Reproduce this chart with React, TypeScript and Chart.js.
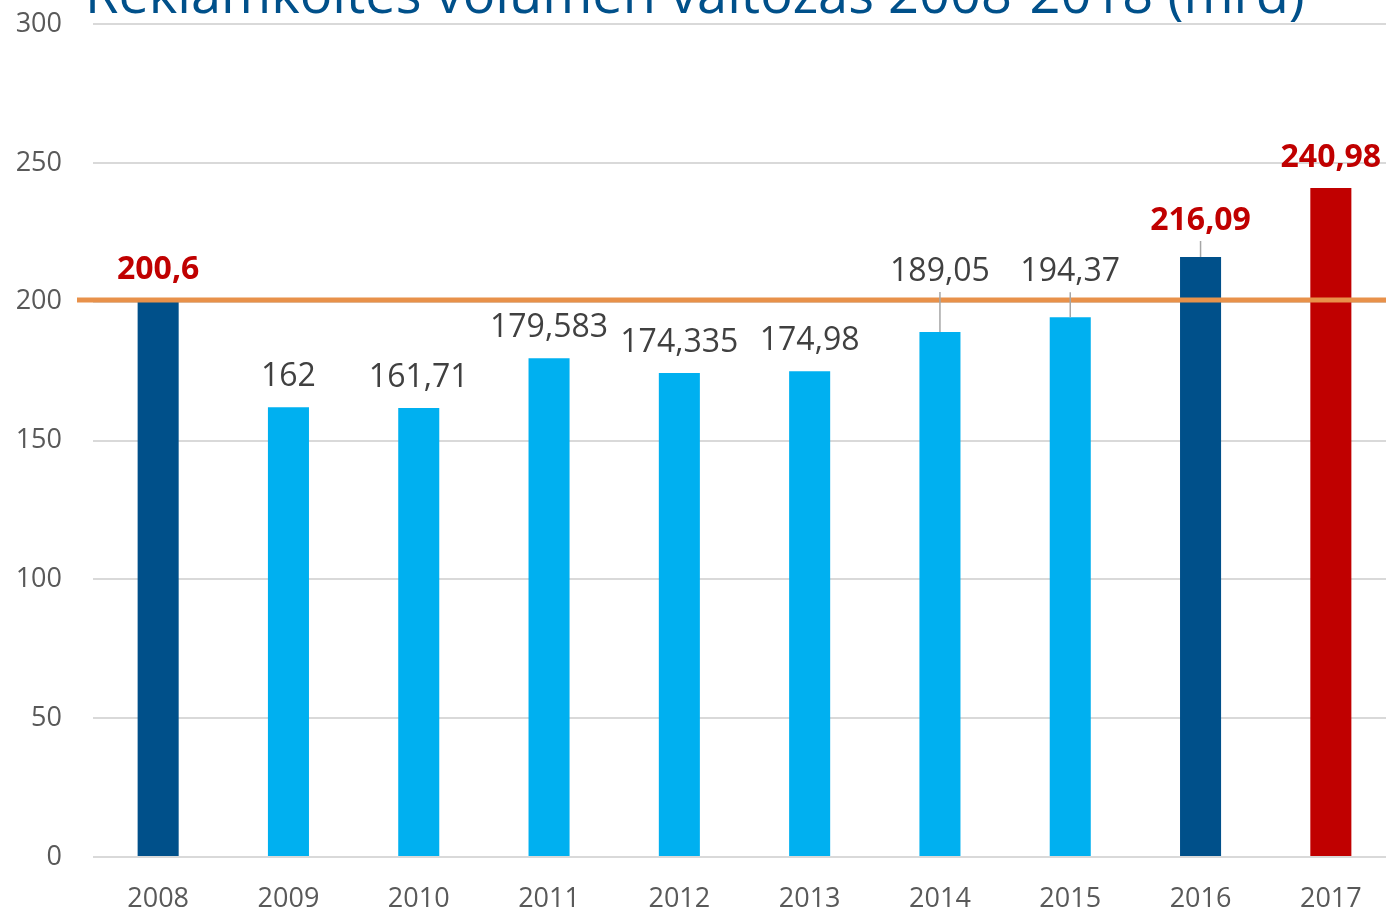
import React, { useEffect, useRef } from "react";
import { Chart, registerables } from "chart.js";

Chart.register(...registerables);

const years = ["2008", "2009", "2010", "2011", "2012", "2013", "2014", "2015", "2016", "2017"];
const values = [200.6, 162, 161.71, 179.583, 174.335, 174.98, 189.05, 194.37, 216.09, 240.98];
const referenceValue = 200.6;
const yTicks = [0, 50, 100, 150, 200, 250, 300];
const titleText = "Reklámköltés volumen változás 2008-2018 (mrd)";

const DARK = "#00508A";
const LIGHT = "#00B0F0";
const RED = "#C00000";
const barColors = [DARK, LIGHT, LIGHT, LIGHT, LIGHT, LIGHT, LIGHT, LIGHT, DARK, RED];
const highlight = [true, false, false, false, false, false, false, false, true, true];
const LABEL_LIFT: Record<number, number> = { 6: 30, 7: 15, 8: 6 };
const FONT = "'Open Sans', 'Noto Sans', sans-serif";
const CANVAS_W = 1396;
const CANVAS_H = 910;

const overlayPlugin = {
  id: "overlay",
  afterDatasetsDraw(chart: any) {
    const { ctx, chartArea, scales } = chart;
    const y = scales.y;
    const ry = y.getPixelForValue(referenceValue);
    ctx.save();
    ctx.strokeStyle = "#E8914A";
    ctx.lineWidth = 5;
    ctx.beginPath();
    ctx.moveTo(chartArea.left - 16, ry);
    ctx.lineTo(chartArea.right, ry);
    ctx.stroke();

    const meta = chart.getDatasetMeta(0);
    meta.data.forEach((bar: any, i: number) => {
      const lift = LABEL_LIFT[i] || 0;
      const base = bar.y - 21 - lift;
      const txt = String(values[i]).replace(".", ",");
      ctx.font = (highlight[i] ? "bold " : "") + "32px " + FONT;
      ctx.fillStyle = highlight[i] ? RED : "#404040";
      ctx.textAlign = "center";
      ctx.textBaseline = "alphabetic";
      ctx.fillText(txt, bar.x, base);
      if (lift > 0) {
        ctx.strokeStyle = "#A6A6A6";
        ctx.lineWidth = 1.5;
        ctx.beginPath();
        ctx.moveTo(bar.x, base + 11);
        ctx.lineTo(bar.x, bar.y);
        ctx.stroke();
      }
    });

    ctx.font = "48px " + FONT;
    const w = ctx.measureText(titleText).width;
    const size = 48 * 1220 / w;
    ctx.font = size + "px " + FONT;
    ctx.fillStyle = DARK;
    ctx.textAlign = "left";
    ctx.textBaseline = "alphabetic";
    ctx.fillText(titleText, 85, 13);
    ctx.restore();
  },
};

export default function App() {
  const ref = useRef<HTMLCanvasElement | null>(null);
  useEffect(() => {
    if (!ref.current) return;
    const chart = new Chart(ref.current, {
      type: "bar",
      data: {
        labels: years,
        datasets: [
          {
            data: values,
            backgroundColor: barColors,
            categoryPercentage: 1,
            barPercentage: 0.315,
          },
        ],
      },
      options: {
        animation: false,
        responsive: false,
        maintainAspectRatio: false,
        layout: { padding: { top: 24, left: 0, right: 0, bottom: 0 } },
        plugins: { legend: { display: false }, tooltip: { enabled: false }, title: { display: false } },
        scales: {
          x: {
            grid: { display: false, drawTicks: false },
            border: { display: false },
            ticks: { color: "#595959", font: { family: FONT, size: 27 }, padding: 26 },
            afterFit: (s: any) => { s.height = 53; s.paddingLeft = 0; s.paddingRight = 0; },
          },
          y: {
            min: 0,
            max: 300,
            afterBuildTicks: (s: any) => { s.ticks = yTicks.map((v) => ({ value: v })); },
            grid: { color: "#D9D9D9", lineWidth: 2, drawTicks: false },
            border: { display: false },
            ticks: { color: "#595959", font: { family: FONT, size: 27 }, padding: 31 },
            afterFit: (s: any) => { s.width = 93; s.paddingTop = 0; s.paddingBottom = 0; },
          },
        },
      },
      plugins: [overlayPlugin],
    });
    return () => chart.destroy();
  }, []);
  return (
    <div style={{ position: "fixed", left: 0, top: 0, width: 1386, height: 910, overflow: "hidden", background: "#fff" }}>
      <canvas ref={ref} width={CANVAS_W} height={CANVAS_H} style={{ width: CANVAS_W, height: CANVAS_H, display: "block" }} />
    </div>
  );
}
